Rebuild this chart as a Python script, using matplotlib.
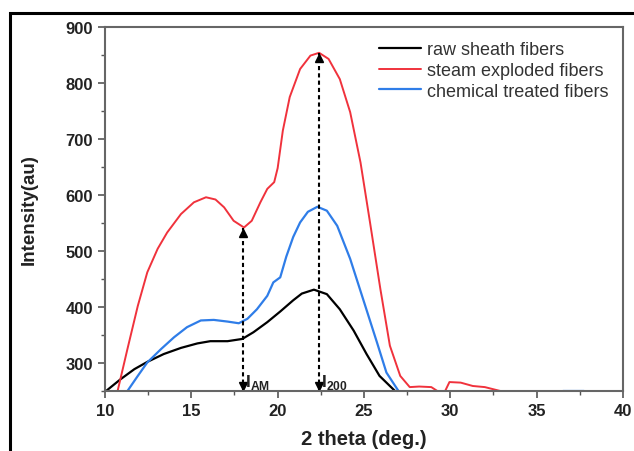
import matplotlib.pyplot as plt
from matplotlib.patches import Rectangle
from matplotlib.ticker import MultipleLocator

plt.rcParams['font.family'] = ['Liberation Sans', 'DejaVu Sans']

# XRD curves, values
raw_x = [10.06, 10.9, 11.7, 12.45, 13.4, 14.4, 15.35, 16.1, 17.1, 17.95, 18.6,
         19.4, 20.15, 20.9, 21.4, 22.1, 22.85, 23.6, 24.4, 25.15, 25.9, 26.8]
raw_y = [250, 271, 289, 302, 316, 327, 335, 339, 339, 343, 355,
         373, 392, 412, 424, 431, 423, 396, 358, 316, 277, 250]

steam_x = [10.73, 11.3, 11.9, 12.45, 13.05, 13.6, 14.4, 15.15, 15.85, 16.4, 16.9,
           17.45, 18.05, 18.5, 19.0, 19.4, 19.8, 20.0, 20.3, 20.7, 21.3, 21.9,
           22.4, 22.95, 23.6, 24.2, 24.8, 25.35, 25.95, 26.5, 27.1, 27.65, 28.2,
           28.9, 29.25]
steam_y = [250, 325, 402, 462, 504, 533, 566, 587, 596, 592, 578,
           554, 542, 554, 587, 611, 623, 648, 715, 775, 825, 849,
           854, 843, 807, 748, 658, 551, 432, 331, 277, 257, 258,
           257, 250]
steam_tail_x = [29.7, 29.95, 30.6, 31.3, 32.0, 32.9]
steam_tail_y = [250, 266, 265, 259, 257, 250]

chem_x = [11.3, 11.9, 12.45, 13.25, 14.0, 14.75, 15.55, 16.3, 17.1, 17.75, 18.25,
          18.8, 19.4, 19.75, 20.15, 20.5, 20.9, 21.3, 21.75, 22.3, 22.85, 23.45,
          24.2, 24.95, 25.75, 26.3, 27.0]
chem_y = [250, 277, 301, 325, 346, 364, 376, 377, 374, 371, 379,
          396, 420, 444, 453, 490, 525, 551, 570, 579, 572, 545,
          486, 414, 337, 283, 250]
chem_tail_x = [36.6, 37.7]
chem_tail_y = [250, 250]

# I_AM and I_200 markers
peak_pos = [18.0, 22.4]
peak_top = [541, 853]
peak_labels = ['I$_{\\mathregular{AM}}$', 'I$_{\\mathregular{200}}$']

fig = plt.figure(figsize=(6.34, 4.52), dpi=100)
fig.patches.append(Rectangle((0.016, -0.1), 1.5, 1.069, transform=fig.transFigure,
                             fill=False, ec='black', lw=2.2))
ax = fig.add_axes([0.1656, 0.1327, 0.817, 0.8053])

line_kw = dict(solid_joinstyle='round', solid_capstyle='round')
ax.plot(raw_x, raw_y, color='black', lw=1.6, label='raw sheath fibers', **line_kw)
ax.plot(steam_x, steam_y, color='#f0323c', lw=1.4, label='steam exploded fibers', **line_kw)
ax.plot(steam_tail_x, steam_tail_y, color='#f0323c', lw=1.4, **line_kw)
ax.plot(chem_x, chem_y, color='#2f7de8', lw=1.6, label='chemical treated fibers', **line_kw)
ax.plot(chem_tail_x, chem_tail_y, color='#2f7de8', lw=1.6)

for xp, yt, lab in zip(peak_pos, peak_top, peak_labels):
    ax.plot([xp, xp], [250, yt], color='black', lw=1.5, ls=(0, (2, 1.5)))
    ax.plot([xp], [yt - 9], marker='^', color='black', ms=6)
    ax.plot([xp], [259], marker='v', color='black', ms=6)
    ax.text(xp + 0.12, 250, lab, fontsize=12.5, fontweight='bold', va='bottom',
            color='#222222')

ax.set_xlim(10, 40)
ax.set_ylim(250, 900)
ax.set_yticks([300, 400, 500, 600, 700, 800, 900])
ax.xaxis.set_minor_locator(MultipleLocator(2.5))
ax.yaxis.set_minor_locator(MultipleLocator(50))
ax.tick_params(which='both', direction='out', colors='#555555', labelcolor='#222222')
ax.tick_params(which='major', length=5, width=1.2, labelsize=12)
ax.tick_params(which='minor', length=3, width=1.0)
for lbl in ax.get_xticklabels() + ax.get_yticklabels():
    lbl.set_fontweight('bold')
for sp in ax.spines.values():
    sp.set_color('#666666')
    sp.set_linewidth(1.5)

ax.set_xlabel('2 theta (deg.)', fontsize=14.5, fontweight='bold', labelpad=8,
              color='#222222')
ax.set_ylabel('Intensity(au)', fontsize=13.5, fontweight='bold', labelpad=20,
              color='#222222')

leg = ax.legend(loc='upper right', frameon=False, fontsize=13, handlelength=2.3,
                handletextpad=0.35, labelspacing=0.2, borderaxespad=0.4)
for t in leg.get_texts():
    t.set_color('#333333')

fig.savefig('out.png', dpi=100)
